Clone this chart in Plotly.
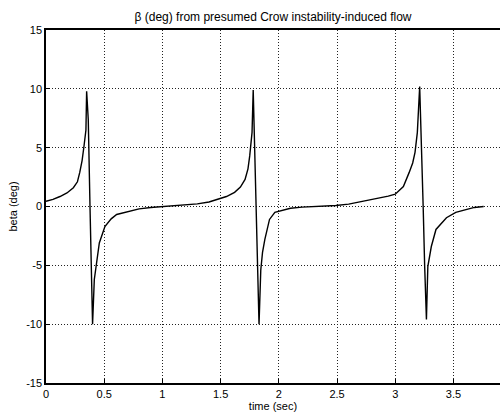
import plotly.graph_objects as go

# time (sec) and beta (deg)
t = [0.0, 0.06, 0.12, 0.18, 0.235, 0.27, 0.29, 0.31, 0.326, 0.343, 0.349,
     0.363, 0.378, 0.392, 0.40, 0.415, 0.435, 0.458, 0.506, 0.56, 0.607, 0.706, 0.8, 0.9, 1.0,
     1.1, 1.19, 1.3, 1.4, 1.48, 1.55, 1.62, 1.67, 1.71, 1.735, 1.75, 1.77, 1.78,
     1.79, 1.80, 1.817, 1.83, 1.845, 1.86, 1.88, 1.92, 1.966, 2.0, 2.1, 2.2, 2.3, 2.4, 2.49,
     2.6, 2.72, 2.8, 2.87, 2.94, 3.0, 3.07, 3.12, 3.15, 3.17, 3.19, 3.21,
     3.225, 3.24, 3.253, 3.268, 3.28, 3.31, 3.35, 3.44, 3.52, 3.61, 3.68, 3.76]
beta = [0.45, 0.6, 0.85, 1.15, 1.6, 2.1, 2.9, 3.9, 5.1, 6.5, 9.8,
        7.4, 0.0, -5.1, -10.0, -6.2, -4.8, -3.1, -1.7, -1.05, -0.68, -0.4, -0.2, -0.08, 0.0,
        0.02, 0.1, 0.22, 0.38, 0.6, 0.85, 1.2, 1.65, 2.3, 3.2, 4.3, 6.3, 9.9,
        6.0, 0.0, -5.1, -10.0, -5.4, -3.9, -2.8, -1.1, -0.5, -0.4, -0.15, -0.05, 0.0, 0.03, 0.08,
        0.2, 0.42, 0.58, 0.74, 0.88, 1.05, 1.7, 2.9, 3.7, 4.6, 6.3, 10.2,
        5.7, 0.0, -5.1, -9.6, -5.1, -3.4, -1.95, -0.95, -0.5, -0.25, -0.08, 0.0]

xticks = [0, 0.5, 1, 1.5, 2, 2.5, 3, 3.5]
xticklabels = ["0", "0.5", "1", "1.5", "2", "2.5", "3", "3.5"]
yticks = [-15, -10, -5, 0, 5, 10, 15]
yticklabels = ["-15", "-10", "-5", "0", "5", "10", "15"]

font = "Liberation Sans, Arial, sans-serif"

fig = go.Figure()
fig.add_trace(go.Scatter(x=t, y=beta, mode="lines",
                         line=dict(color="black", width=1.4),
                         showlegend=False, hoverinfo="skip"))

fig.update_layout(
    width=501, height=415,
    margin=dict(l=46, r=1, t=30, b=32),
    paper_bgcolor="white", plot_bgcolor="white",
    font=dict(family=font, size=11, color="black"),
    title=dict(text="β (deg) from presumed Crow instability-induced flow",
               x=0.545, xanchor="center", y=0.96, yanchor="middle",
               font=dict(family=font, size=12, color="black")),
)
fig.update_xaxes(
    range=[0, 3.9], tickvals=xticks, ticktext=xticklabels,
    showgrid=True, gridcolor="#222", griddash="1px,2px", gridwidth=1,
    zeroline=False, showline=True, linecolor="black", linewidth=1.5, mirror=True,
    ticks="inside", ticklen=4, tickcolor="black",
    title=dict(text="time (sec)", standoff=0, font=dict(family=font, size=11)),
    tickfont=dict(family=font, size=11),
)
fig.update_yaxes(
    range=[-15, 15], tickvals=yticks, ticktext=yticklabels,
    showgrid=True, gridcolor="#222", griddash="1px,2px", gridwidth=1,
    zeroline=False, showline=True, linecolor="black", linewidth=1.5,
    ticks="inside", ticklen=4, tickcolor="black",
    title=dict(text="beta (deg)", standoff=6, font=dict(family=font, size=11)),
    tickfont=dict(family=font, size=11),
)

fig.write_html("out.html", config={"displayModeBar": False},
               post_script="document.body.style.margin='0';document.body.style.overflow='hidden';")
